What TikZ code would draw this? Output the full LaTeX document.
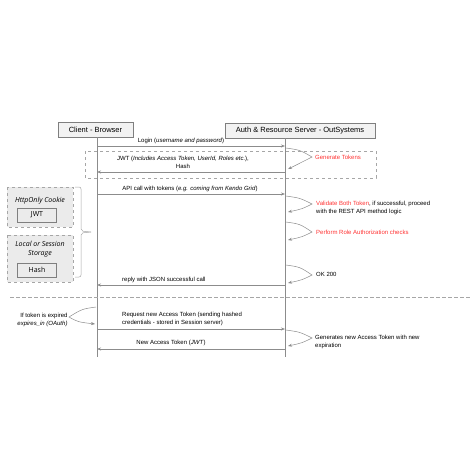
\documentclass[tikz,border=0pt]{standalone}
\usepackage{fontspec}
\setmainfont{Liberation Sans}
\newfontfamily\boxfont{Open Sans}
\usetikzlibrary{arrows.meta}
\definecolor{linegray}{HTML}{8C8C8C}
\definecolor{boxborder}{HTML}{7F7F7F}
\definecolor{boxfill}{HTML}{F2F2F2}
\definecolor{storefill}{HTML}{EBEBEB}
\definecolor{storeborder}{HTML}{A6A6A6}
\definecolor{redtxt}{HTML}{FF3333}
\tikzset{
  actor/.style={draw=boxborder, fill=boxfill, minimum height=15pt, inner sep=0pt, font=\fontsize{7.5}{8}\selectfont},
  lifeline/.style={draw=linegray, line width=0.6pt},
  msg/.style={draw=linegray, line width=0.6pt, -{Stealth[length=4pt,width=3pt]}},
  loopline/.style={draw=linegray, line width=0.5pt, -{Stealth[length=4pt,width=3pt]}},
  lbl/.style={font=\fontsize{6}{8}\selectfont, inner sep=0pt},
  store/.style={draw=storeborder, dashed, fill=storefill, line width=0.5pt},
  item/.style={draw=boxborder, fill=storefill, line width=0.5pt, minimum width=39pt, minimum height=14pt, inner sep=0pt, font=\boxfont\fontsize{7}{8}\selectfont},
  storetitle/.style={font=\boxfont\itshape\fontsize{7}{9}\selectfont, inner sep=0pt, align=center}
}
\begin{document}
\begin{tikzpicture}[x=1pt,y=-1pt]
\useasboundingbox (0,0) rectangle (474,474);

% actors
\node[actor, minimum width=75pt] (client) at (95.5,130) {Client - Browser};
\node[actor, minimum width=150pt] (server) at (300,130.5) {Auth \& Resource Server - OutSystems};

% lifelines
\coordinate (cEnd) at (97,357);
\coordinate (sEnd) at (285,357);
\draw[lifeline] (97,137) coordinate (cTop) -- (cEnd);
\draw[lifeline] (285,138) coordinate (sTop) -- (sEnd);

% dashed frame around token response
\draw[draw=storeborder, dashed, line width=0.5pt] (85,151) rectangle (376,178);

% endpoints
\coordinate (c1) at (97,146);  \coordinate (s1) at (285,146);
\coordinate (c2) at (97,172);  \coordinate (s2) at (285,172);
\coordinate (c3) at (97,194);  \coordinate (s3) at (285,194);
\coordinate (c4) at (97,285);  \coordinate (s4) at (285,285);
\coordinate (c5) at (97,329);  \coordinate (s5) at (285,329);
\coordinate (c6) at (97,349);  \coordinate (s6) at (285,349);

% messages
\draw[msg] (c1) -- (s1);
\node[lbl] (m1) at (181,140.5) {Login (\textit{username and password})};

\draw[msg] (s2) -- (c2);
\node[lbl, align=center] (m2) at (183,162) {JWT (\textit{Includes Access Token, UserId, Roles etc.}),\\Hash};

\draw[msg] (c3) -- (s3);
\node[lbl] (m3) at (190,189) {API call with tokens (\textit{e.g. coming from Kendo Grid})};

\draw[msg] (s4) -- (c4);
\node[lbl, anchor=west] (m4) at (122,280) {reply with JSON successful call};

\draw[msg] (c5) -- (s5);
\node[lbl, anchor=west, align=left] (m5) at (122,319) {Request new Access Token (sending hashed\\credentials - stored in Session server)};

\draw[msg] (s6) -- (c6);
\node[lbl] (m6) at (171,343) {New Access Token (\textit{JWT})};

% self loops on server
\coordinate (g1) at (286,148); \coordinate (g2) at (312,157); \coordinate (g3) at (288,169);
\draw[loopline] (g1) .. controls (300,150) .. (g2) .. controls (302,163) .. (g3);
\node[lbl, anchor=west, text=redtxt] (t1) at (315,157) {Generate Tokens};

\coordinate (v1) at (286,196); \coordinate (v2) at (312,204); \coordinate (v3) at (288,212);
\draw[loopline] (v1) .. controls (300,198) .. (v2) .. controls (302,209) .. (v3);
\node[lbl, anchor=west, align=left] (t2) at (316,208) {\textcolor{redtxt}{Validate Both Token}, if successful, proceed\\with the REST API method logic};

\coordinate (p1) at (286,222); \coordinate (p2) at (312,232); \coordinate (p3) at (288,240);
\draw[loopline] (p1) .. controls (300,224) .. (p2) .. controls (302,237) .. (p3);
\node[lbl, anchor=west, text=redtxt] (t3) at (316,232) {Perform Role Authorization checks};

\coordinate (o1) at (286,265); \coordinate (o2) at (312,275); \coordinate (o3) at (288,283);
\draw[loopline] (o1) .. controls (300,267) .. (o2) .. controls (302,280) .. (o3);
\node[lbl, anchor=west] (t4) at (316,274.5) {OK 200};

\coordinate (n1) at (286,330); \coordinate (n2) at (312,338); \coordinate (n3) at (288,346);
\draw[loopline] (n1) .. controls (300,332) .. (n2) .. controls (302,343) .. (n3);
\node[lbl, anchor=west, align=left] (t5) at (315,342) {Generates new Access Token with new\\expiration};

% client-side loop
\coordinate (e1) at (96,307); \coordinate (e2) at (69,317); \coordinate (e3) at (95,324);
\draw[loopline] (e1) .. controls (82,309) .. (e2) .. controls (78,322) .. (e3);
\node[lbl, align=right] (t6) at (42.5,319.5) {If token is expired\\\textit{expires\_in (OAuth)}};

% separator
\coordinate (sepL) at (10,297); \coordinate (sepR) at (470,297);
\draw[draw=storeborder, line width=0.5pt, dash pattern=on 4pt off 2pt] (sepL) -- (sepR);

% storage boxes
\draw[store] (7,187) rectangle (73,227);
\node[storetitle] (cookie) at (40,201) {HttpOnly Cookie};
\node[item] (jwt) at (37,215) {JWT};

\draw[store] (7,235) rectangle (73,282);
\node[storetitle, align=center] (local) at (40,249.5) {Local or Session\\Storage};
\node[item] (hash) at (37,270) {Hash};

% brace
\coordinate (bTip) at (91,232);
\draw[draw=storeborder, line width=0.5pt, rounded corners=2pt]
  (75,187) -- (81,187) -- (81,231) -- (bTip);
\draw[draw=storeborder, line width=0.5pt, rounded corners=2pt]
  (75,277) -- (81,277) -- (81,233) -- (bTip);
\end{tikzpicture}
\end{document}
